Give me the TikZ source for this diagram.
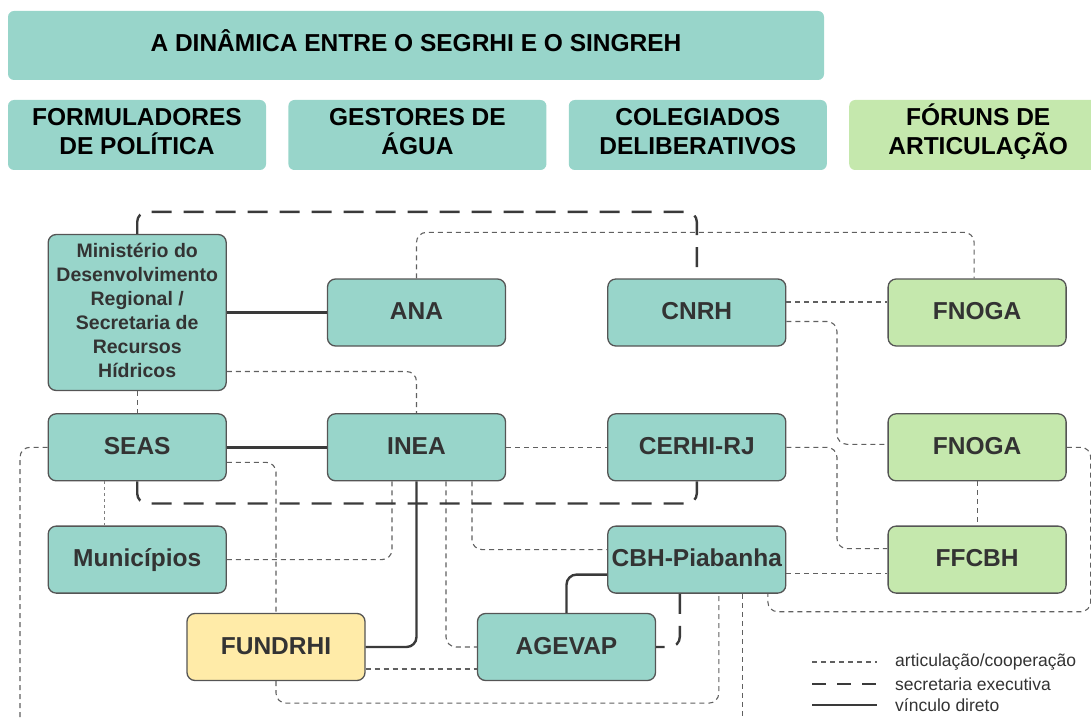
\documentclass[tikz,border=0pt]{standalone}
\usepackage{fontspec}
\setmainfont{Liberation Sans}
\usetikzlibrary{positioning, calc}
\usepackage{xcolor}
\definecolor{tealbox}{HTML}{98D5CA}
\definecolor{greenbox}{HTML}{C5E8AD}
\definecolor{yellowbox}{HTML}{FFEBA8}
\definecolor{boxline}{HTML}{555555}
\definecolor{lineclr}{HTML}{3A3A3A}
\definecolor{txtclr}{HTML}{333333}
\tikzset{
    % Colors
    compTeal/.style={fill=tealbox},
    compGreen/.style={fill=greenbox},
    compYellow/.style={fill=yellowbox},
    % Shapes
    head/.style={rectangle, rounded corners=6pt, minimum width=258pt, minimum height=70pt,
                 text height=47.5pt, text depth=8pt,
                 align=center, text=black, font=\fontsize{24.5}{29}\selectfont\bfseries, compTeal},
    comp/.style={rectangle, draw=boxline, line width=1.3pt, rounded corners=8pt, inner sep=2pt,
                 minimum width=178pt, minimum height=67pt, align=center, text=txtclr,
                 text height=17.5pt, text depth=3pt,
                 font=\fontsize{24.5}{28}\selectfont\bfseries, compTeal},
    % Flow & Labels
    direto/.style={draw=lineclr, line width=2.4pt, rounded corners=10pt},
    secret/.style={draw=lineclr, line width=2.4pt, dash pattern=on 20pt off 12pt, rounded corners=10pt},
    artic/.style={draw=gray!75!black, line width=1.1pt, dash pattern=on 5pt off 4pt, rounded corners=10pt},
    lbl/.style={anchor=west, inner sep=0pt, text=txtclr, font=\fontsize{17.5}{20}\selectfont}
}

\begin{document}
\begin{tikzpicture}[x=1pt, y=1pt]
\useasboundingbox (0,0) rectangle (1091,-719);

% header
\node[head, minimum width=816pt, minimum height=69pt, text height=17.5pt, text depth=5pt] (title) at (416,-45.5)
    {A DINÂMICA ENTRE O SEGRHI E O SINGREH};
\node[head] (hform) at (137,-135) {FORMULADORES\\DE POLÍTICA};
\node[head, right=22pt of hform] (hgest) {GESTORES DE\\ÁGUA};
\node[head, right=22pt of hgest] (hcol) {COLEGIADOS\\DELIBERATIVOS};
\node[head, compGreen, right=22pt of hcol] (hfor) {FÓRUNS DE\\ARTICULAÇÃO};

% boxes
\node[comp] (ana) at (416.5,-312.5) {ANA};
\node[comp, left=100pt of ana, minimum height=156pt, text height=138pt, text depth=8pt,
      font=\fontsize{19.5}{24}\selectfont\bfseries] (min)
    {Ministério do\\Desenvolvimento\\Regional /\\Secretaria de\\Recursos\\Hídricos};
\node[comp, right=101pt of ana] (cnrh) {CNRH};
\node[comp, compGreen, right=101pt of cnrh] (fnoga) {FNOGA};

\node[comp, below=66.5pt of ana] (inea) {INEA};
\node[comp, left=100pt of inea] (seas) {SEAS};
\node[comp, right=101pt of inea] (cerhi) {CERHI-RJ};
\node[comp, compGreen, right=101pt of cerhi] (fnogab) {FNOGA};

\node[comp, below=44pt of seas] (mun) {Municípios};
\node[comp, below=44pt of cerhi] (cbh) {CBH-Piabanha};
\node[comp, compGreen, below=44pt of fnogab] (ffcbh) {FFCBH};

\node[comp, compYellow] (fundrhi) at (276,-647) {FUNDRHI};
\node[comp] (agevap) at (566.5,-647) {AGEVAP};

\coordinate (gapA) at ($(cnrh.east)!0.5!(fnoga.west)$);
\coordinate (exitA) at (20,-730);

% articulacao / cooperacao
\draw[artic] (ana.north) -- ++(0,46) -| ([xshift=-3pt]fnoga.north);
\draw[artic] ([yshift=10.5pt]cnrh.east) -- ([yshift=10.5pt]fnoga.west);
\draw[artic] ([yshift=-9pt]cnrh.east) -| ($(gapA |- fnogab.west)+(0,3)$) -- ([yshift=3pt]fnogab.west);
\draw[artic] (cerhi.east) -| ($(gapA |- ffcbh.west)+(0,11)$) -- ([yshift=11pt]ffcbh.west);
\draw[artic] ([yshift=-14pt]cbh.east) -- ([yshift=-14pt]ffcbh.west);
\draw[artic] (fnogab.south) -- (ffcbh.north);
\draw[artic] (fnogab.east) -- ++(24,0) |- ($(cbh.south)+(71,-18)$) -- ([xshift=71pt]cbh.south);
\draw[artic] ([yshift=-59pt]min.east) -| (inea.north);
\draw[artic] (min.south) -- (seas.north);
\draw[artic] (inea.east) -- (cerhi.west);
\draw[artic] (seas.west) -| (exitA);
\draw[artic] ([yshift=-15pt]seas.east) -| (fundrhi.north);
\draw[artic, draw=gray, line width=0.8pt, dash pattern=on 3pt off 3pt] ([xshift=-32.5pt]seas.south) -- ([xshift=-32.5pt]mun.north);
\draw[artic] (mun.east) -| ([xshift=-24.5pt]inea.south);
\draw[artic] ([xshift=29.5pt]inea.south) |- (agevap.west);
\draw[artic] ([xshift=55.5pt]inea.south) |- ([yshift=10pt]cbh.west);
\draw[artic] ([yshift=-22pt]fundrhi.east) -- ([yshift=-22pt]agevap.west);
\draw[artic] (fundrhi.south) -- ++(0,-22) -| ([xshift=22pt]cbh.south);
\draw[artic] ([xshift=46pt]cbh.south) -- ++(0,-140);

% secretaria executiva
\draw[secret] (min.north) -- ++(0,22) -| (cnrh.north);
\draw[secret] (seas.south) -- ++(0,-22) -| (cerhi.south);
\draw[secret] ([xshift=-17pt]cbh.south) |- (agevap.east);

% vinculo direto
\draw[direto] (min.east) -- (ana.west);
\draw[direto] (seas.east) -- (inea.west);
\draw[direto] (inea.south) |- (fundrhi.east);
\draw[direto] ([yshift=-15pt]cbh.west) -| (agevap.north);

% legenda
\node[lbl] (lart) at (895,-662) {articulação/cooperação};
\node[lbl] (lsec) at (895,-684) {secretaria executiva};
\node[lbl] (ldir) at (895,-705) {vínculo direto};
\draw[artic] ($(lart.west)+(-83,0)$) -- ($(lart.west)+(-18,0)$);
\draw[secret, dash pattern=on 14pt off 11pt] ($(lsec.west)+(-83,0)$) -- ($(lsec.west)+(-18,0)$);
\draw[direto] ($(ldir.west)+(-83,0)$) -- ($(ldir.west)+(-18,0)$);

\end{tikzpicture}
\end{document}
